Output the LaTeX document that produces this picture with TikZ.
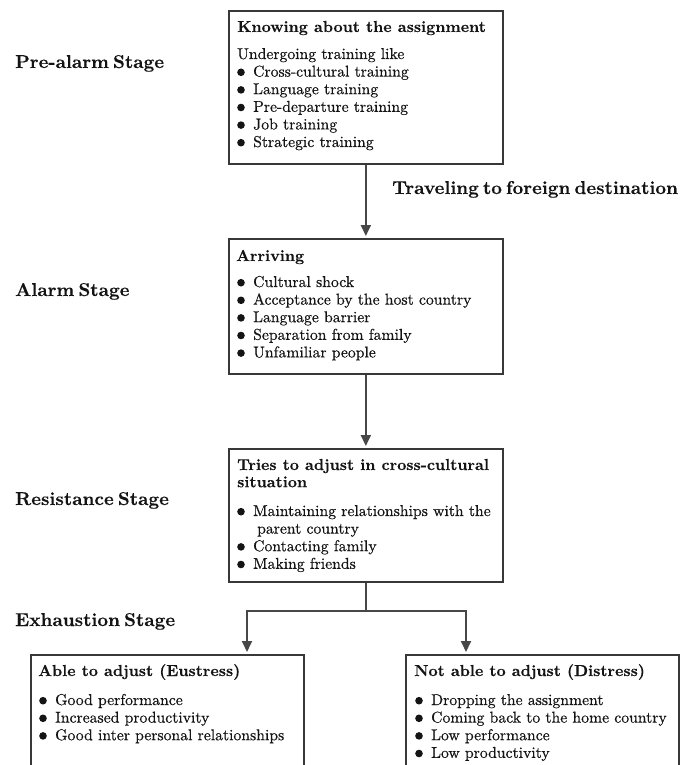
\documentclass[tikz,border=0pt]{standalone}
\usepackage{fontspec}
\usetikzlibrary{arrows.meta}

% faces: slightly thickened Latin Modern for the body, bold extended for headings
\newfontfamily\bodyrm{lmroman10-regular.otf}[FakeBold=0.5]
\newfontfamily\headbf{lmroman10-bold.otf}[FakeBold=0.2]

% type sizes for the box bodies, box headings and stage labels
\newcommand\bodyfont{\bodyrm\fontsize{15.7}{17.6}\selectfont}
\newcommand\headfont{\headbf\fontsize{15.9}{17.2}\selectfont}
\newcommand\stagefont{\headbf\fontsize{18.6}{21}\selectfont\spaceskip=0.22em plus 0.05em\relax}
% list bullet: a filled dot set on the text baseline
\newcommand\bul{\makebox[16pt][l]{\tikz[baseline=0pt,x=1pt,y=1pt]\fill[black!92] (4,4.3) circle[radius=3.8];}}

\begin{document}
\begin{tikzpicture}[x=1pt,y=-1pt,
  box/.style={draw=black!78, line width=1.7pt, rectangle, anchor=north west, inner sep=0pt},
  link/.style={draw=black!72, line width=1.8pt},
  arr/.style={link, -{Triangle[length=11pt,width=10pt]}, shorten >=2pt},
  txt/.style={anchor=base west, inner sep=0pt, text=black!92, font=\bodyfont},
  head/.style={anchor=base west, inner sep=0pt, text=black!92, font=\headfont},
  stage/.style={anchor=base west, inner sep=0pt, text=black!92, font=\stagefont}]

\useasboundingbox (0,0) rectangle (693,765);
\clip (0,0) rectangle (693,765);

% frames
\node[box, minimum width=274pt, minimum height=153pt] (b1) at (228,10) {};
\node[box, minimum width=274pt, minimum height=135pt] (b2) at (228,238) {};
\node[box, minimum width=274pt, minimum height=133pt] (b3) at (228,448) {};
\node[box, minimum width=273pt, minimum height=130pt] (b4) at (30,654) {};
\node[box, minimum width=273pt, minimum height=130pt] (b5) at (405,654) {};

% stage labels
\node[stage] (s1) at (15,68) {Pre-alarm Stage};
\node[stage] (s2) at (15,296) {Alarm Stage};
\node[stage] (s3) at (15,505) {Resistance Stage};
\node[stage] (s4) at (15,626) {Exhaustion Stage};
\node[stage] (trav) at (392,194) {Traveling to foreign destination};

% box contents
\node[head] (h1) at (237,32) {Knowing about the assignment};
\node[txt] (l1) at (237,59) {\begin{tabular}[t]{@{}l@{}}
  Undergoing training like\\
  \bul Cross-cultural training\\
  \bul Language training\\
  \bul Pre-departure training\\
  \bul Job training\\
  \bul Strategic training
\end{tabular}};

\node[head] (h2) at (236,261) {Arriving};
\node[txt] (l2) at (237,287) {\begin{tabular}[t]{@{}l@{}}
  \bul Cultural shock\\
  \bul Acceptance by the host country\\
  \bul Language barrier\\
  \bul Separation from family\\
  \bul Unfamiliar people
\end{tabular}};

\node[head] (h3) at (237,470) {\begin{tabular}[t]{@{}l@{}}
  Tries to adjust in cross-cultural\\
  situation
\end{tabular}};
\node[txt] (l3) at (237,516) {\begin{tabular}[t]{@{}l@{}}
  \bul Maintaining relationships with the\\
  \hspace{20pt}parent country\\
  \bul Contacting family\\
  \bul Making friends
\end{tabular}};

\node[head] (h4) at (38,676) {Able to adjust (Eustress)};
\node[txt] (l4) at (39,705) {\begin{tabular}[t]{@{}l@{}}
  \bul Good performance\\
  \bul Increased productivity\\
  \bul Good inter personal relationships
\end{tabular}};

\node[head] (h5) at (414,676) {Not able to adjust (Distress)};
\node[txt] (l5) at (415,705) {\begin{tabular}[t]{@{}l@{}}
  \bul Dropping the assignment\\
  \bul Coming back to the home country\\
  \bul Low performance\\
  \bul Low productivity
\end{tabular}};

% connectors
\draw[arr] (b1.south) -- (b2.north);
\draw[arr] (b2.south) -- (b3.north);

\coordinate (forkL) at (247,611);
\coordinate (forkR) at (466,611);
\coordinate (fork) at (b3.south |- forkL);
\draw[link] (b3.south) -- (fork);
\draw[arr] (fork) -- (forkL) -- (forkL |- b4.north);
\draw[arr] (fork) -- (forkR) -- (forkR |- b5.north);
\end{tikzpicture}
\end{document}
